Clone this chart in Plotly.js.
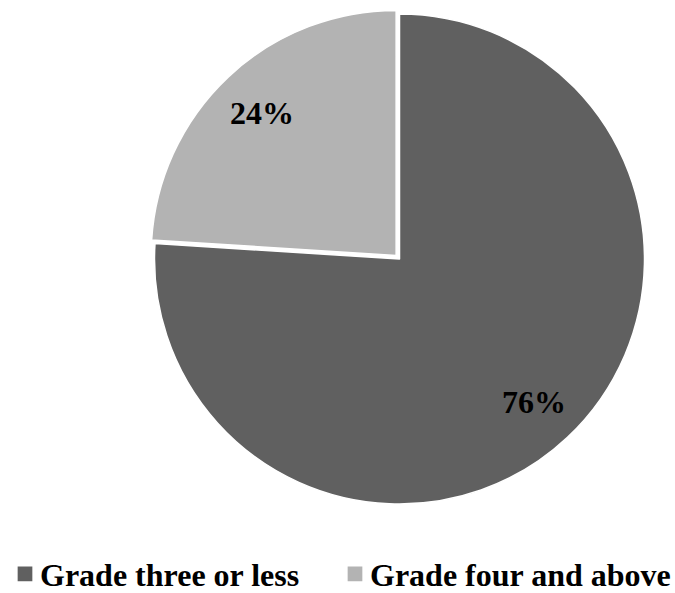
<!DOCTYPE html>
<html>
<head>
<meta charset="utf-8">
<script src="https://cdn.plot.ly/plotly-3.0.1.min.js"></script>
<style>
  html, body { margin: 0; padding: 0; background: #ffffff; }
  #chart { width: 675px; height: 593px; }
</style>
</head>
<body>
<div id="chart"></div>
<script>
// Share of pupils by grade group
const categories = ['Grade three or less', 'Grade four and above'];
const shares = [76, 24];
const pulls = [0, 0.02];
const sliceColors = ['#606060', '#b3b3b3'];

// Figure geometry (pixels)
const W = 675, H = 593;
const cx = 399.5, cy = 259, R = 245;
const maxPull = Math.max(...pulls);
const half = R * (1 + maxPull);          // Plotly shrinks the radius by (1 + max pull)
const labelFont = { family: 'Liberation Serif, Times New Roman, serif', size: 32, color: '#000000', weight: 'bold' };

const trace = {
  type: 'pie',
  labels: categories,
  values: shares,
  sort: false,
  direction: 'clockwise',
  rotation: 0,
  pull: pulls,
  marker: { colors: sliceColors, line: { color: '#ffffff', width: 1.5 } },
  textinfo: 'none',
  hoverinfo: 'label+percent',
  domain: {
    x: [(cx - half) / W, (cx + half) / W],
    y: [1 - (cy + half) / H, 1 - (cy - half) / H]
  }
};

// Percentage labels placed along each slice's bisector
const total = shares.reduce((a, b) => a + b, 0);
let cum = 0;
const annotations = shares.map((v, i) => {
  const mid = (cum + v / 2) / total;
  cum += v;
  const theta = mid * 2 * Math.PI;
  const dist = R * (0.8 + pulls[i]);
  const px = cx + dist * Math.sin(theta);
  const py = cy - dist * Math.cos(theta);
  return {
    x: px / W, y: 1 - py / H, xref: 'paper', yref: 'paper',
    xanchor: 'center', yanchor: 'middle',
    text: Math.round(v / total * 100) + '%',
    showarrow: false,
    font: labelFont
  };
});

const layout = {
  width: W,
  height: H,
  margin: { l: 0, r: 0, t: 0, b: 0, autoexpand: false },
  paper_bgcolor: '#ffffff',
  showlegend: true,
  annotations: annotations,
  legend: {
    orientation: 'h',
    x: 0,
    xanchor: 'left',
    y: 1 - 574 / H,
    yanchor: 'middle',
    entrywidth: 285,
    entrywidthmode: 'pixels',
    font: labelFont,
    itemclick: false
  }
};

Plotly.newPlot('chart', [trace], layout, { displayModeBar: false, staticPlot: true }).then(() => {
  // Larger legend swatches, sitting closer to their labels
  document.querySelectorAll('#chart .legendpoints path.legendpie').forEach(p => {
    p.setAttribute('transform', 'translate(25,0) scale(1.4)');
  });
  // Let the last legend label run past the fixed entry width
  document.querySelectorAll('#chart .legend .scrollbox').forEach(g => {
    g.removeAttribute('clip-path');
  });
});
</script>
</body>
</html>
